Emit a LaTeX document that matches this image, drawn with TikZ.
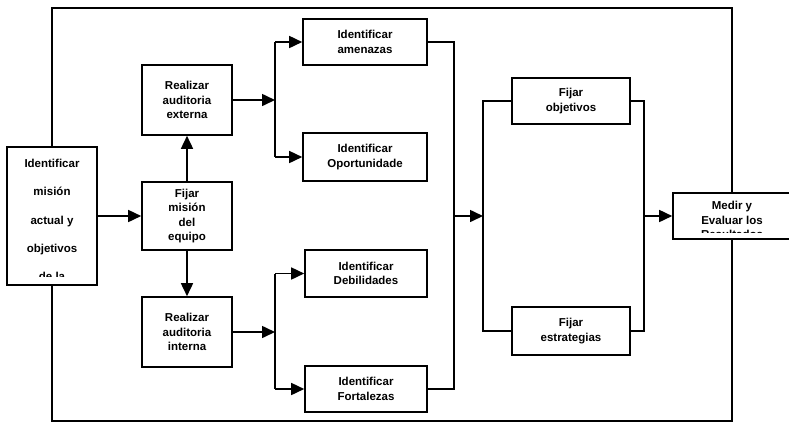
\documentclass[tikz,border=0pt]{standalone}
\usepackage{fontspec}
\setmainfont{Liberation Sans}
\usetikzlibrary{arrows.meta}
\begin{document}
\begin{tikzpicture}[x=1pt,y=-1pt,
  box/.style={draw, line width=1.6pt, align=center, inner sep=0pt, font=\fontsize{11.5pt}{14.5pt}\selectfont\bfseries},
  txt/.style={align=center, inner sep=0pt, font=\fontsize{11.5pt}{14.5pt}\selectfont\bfseries},
  ln/.style={line width=1.6pt},
  arr/.style={ln, -{Triangle[length=13pt,width=12pt]}}]
\useasboundingbox (0,0) rectangle (789,424);
% boxes
\node[box, minimum width=90pt, minimum height=138pt] (ident) at (52,216) {};
\begin{scope}
  \clip (8,148) rectangle (96,276);
  \node[txt, font=\fontsize{11.5pt}{28.3pt}\selectfont\bfseries] (identtxt) at (52,220) {Identificar\\misión\\actual y\\objetivos\\de la};
\end{scope}
\node[box, minimum width=90pt, minimum height=68pt] (fijar) at (187,216) {Fijar\\misión\\del\\equipo};
\node[box, minimum width=90pt, minimum height=70pt] (ext) at (187,100) {Realizar\\auditoria\\externa};
\node[box, minimum width=90pt, minimum height=70pt] (int) at (187,332) {Realizar\\auditoria\\interna};
\node[box, minimum width=124pt, minimum height=46pt] (amen) at (365,42) {Identificar\\amenazas};
\node[box, minimum width=124pt, minimum height=48pt] (opor) at (365,157) {Identificar\\Oportunidade};
\node[box, minimum width=122pt, minimum height=47pt] (debil) at (366,273.5) {Identificar\\Debilidades};
\node[box, minimum width=122pt, minimum height=46pt] (fort) at (366,389) {Identificar\\Fortalezas};
\node[box, minimum width=118pt, minimum height=46pt] (obj) at (571,101) {Fijar\\objetivos};
\node[box, minimum width=118pt, minimum height=48pt] (estr) at (571,331) {Fijar\\estrategias};
\node[box, minimum width=118pt, minimum height=46pt] (medir) at (732,216) {};
\begin{scope}
  \clip (674,194) rectangle (790,232);
  \node[txt] (medirtxt) at (732,220) {Medir y\\Evaluar los\\Resultados};
\end{scope}
% junction coordinates
\coordinate (j1) at (275,100);
\coordinate (j2) at (275,332);
\coordinate (j3) at (454,216);
\coordinate (j4) at (483,216);
\coordinate (j5) at (644,216);
\coordinate (tl) at (52,8);
\coordinate (tr) at (732,8);
\coordinate (bl) at (52,421);
\coordinate (br) at (732,421);
% frame
\draw[ln] (ident.north) -- (tl) -- (tr) -- (medir.north);
\draw[ln] (ident.south) -- (bl) -- (br) -- (medir.south);
% arrows
\draw[arr] (ident.east) -- (fijar.west);
\draw[arr] (fijar.north) -- (ext.south);
\draw[arr] (fijar.south) -- (int.north);
\draw[arr] (ext.east) -- (j1);
\draw[ln] (j1 |- amen.west) -- (j1 |- opor.west);
\draw[arr] (j1 |- amen.west) -- (amen.west);
\draw[arr] (j1 |- opor.west) -- (opor.west);
\draw[arr] (int.east) -- (j2);
\draw[ln] (j2 |- debil.west) -- (j2 |- fort.west);
\draw[arr] (j2 |- debil.west) -- (debil.west);
\draw[arr] (j2 |- fort.west) -- (fort.west);
\draw[ln] (amen.east) -- (j3 |- amen.east) -- (j3);
\draw[ln] (fort.east) -- (j3 |- fort.east) -- (j3);
\draw[arr] (j3) -- (j4);
\draw[ln] (obj.west) -- (j4 |- obj.west) -- (j4 |- estr.west) -- (estr.west);
\draw[ln] (obj.east) -- (j5 |- obj.east) -- (j5);
\draw[ln] (estr.east) -- (j5 |- estr.east) -- (j5);
\draw[arr] (j5) -- (medir.west);
\end{tikzpicture}
\end{document}
